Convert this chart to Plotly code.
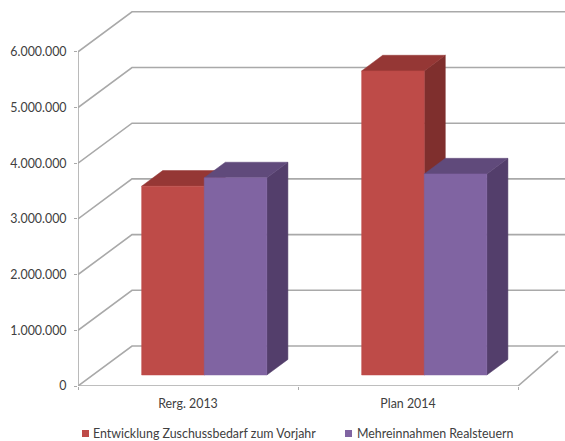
import plotly.graph_objects as go

# Chart data
categories = ["Rerg. 2013", "Plan 2014"]
series_names = ["Entwicklung Zuschussbedarf zum Vorjahr", "Mehreinnahmen Realsteuern"]
zuschussbedarf = [3390000, 5460000]
realsteuern = [3540000, 3610000]
y_ticks = [0, 1000000, 2000000, 3000000, 4000000, 5000000, 6000000]
y_tick_labels = ["0", "1.000.000", "2.000.000", "3.000.000", "4.000.000", "5.000.000", "6.000.000"]

# Canvas and axis scale
WIDTH, HEIGHT = 565, 441
AXIS_LEFT, AXIS_BOTTOM, AXIS_TOP = 78, 386, 8
PX_PER_CATEGORY = 220
PX_PER_UNIT = 55.7 / 1e6

# Oblique projection of the chart's depth direction
DEPTH_X = 54 / PX_PER_CATEGORY
DEPTH_Y = 40 / PX_PER_UNIT
BAR_FRONT = 0.275
BAR_BACK = 0.665
BAR_WIDTH = 62.6 / PX_PER_CATEGORY
BAR_SHIFT = 1.4 / PX_PER_CATEGORY

GRID = "#a9a9a9"
TEXT = "#404040"
FACE_COLORS = [
    {"front": "#be4b48", "top": "#953735", "side": "#7f2f2d"},
    {"front": "#8064a2", "top": "#604a7b", "side": "#533e6b"},
]


def project(x, y, depth):
    return x + depth * DEPTH_X, y + depth * DEPTH_Y


def face(points, color, name):
    xs, ys = zip(*[project(*p) for p in points])
    return go.Scatter(
        x=list(xs) + [xs[0]], y=list(ys) + [ys[0]], mode="lines", fill="toself",
        fillcolor=color, line=dict(color=color, width=0.5), name=name,
        showlegend=False, hoverinfo="name",
    )


def wall_line(points):
    xs, ys = zip(*[project(*p) for p in points])
    return go.Scatter(
        x=xs, y=ys, mode="lines", line=dict(color=GRID, width=1.6),
        showlegend=False, hoverinfo="skip", cliponaxis=False,
    )


x_left, x_floor_right = -0.5, 1.5
x_edge = x_left + (WIDTH - AXIS_LEFT) / PX_PER_CATEGORY
fig = go.Figure()

# Back wall gridlines, running from the value axis into the depth and across
for v in y_ticks:
    fig.add_trace(wall_line([(x_left, v, 0), (x_left, v, 1), (x_edge - DEPTH_X, v, 1)]))

# Value axis, front floor edge and right floor edge
fig.add_trace(wall_line([(x_left, y_ticks[0], 0), (x_left, y_ticks[-1], 0)]))
fig.add_trace(wall_line([(x_left, 0, 0), (x_floor_right, 0, 0), (x_edge - DEPTH_X, 0, (x_edge - x_floor_right) / DEPTH_X)]))

# Columns: side, top and front of each box, painted left to right
for c in range(len(categories)):
    for s, values in enumerate([zuschussbedarf, realsteuern]):
        colors = FACE_COLORS[s]
        x0 = c + BAR_SHIFT + (s - 1) * BAR_WIDTH
        x1 = x0 + BAR_WIDTH
        top = values[c]
        name = series_names[s]
        fig.add_trace(face([(x1, 0, BAR_FRONT), (x1, 0, BAR_BACK), (x1, top, BAR_BACK), (x1, top, BAR_FRONT)], colors["side"], name))
        fig.add_trace(face([(x0, top, BAR_FRONT), (x0, top, BAR_BACK), (x1, top, BAR_BACK), (x1, top, BAR_FRONT)], colors["top"], name))
        fig.add_trace(face([(x0, 0, BAR_FRONT), (x1, 0, BAR_FRONT), (x1, top, BAR_FRONT), (x0, top, BAR_FRONT)], colors["front"], name))

# Legend row along the bottom
legend_entries = [(82, 91), (345, 355)]
shapes, annotations = [], []
for (swatch_x, text_x), name, colors in zip(legend_entries, series_names, FACE_COLORS):
    shapes.append(dict(
        type="rect", xref="paper", yref="paper", line_width=0, fillcolor=colors["front"],
        x0=swatch_x / WIDTH, x1=(swatch_x + 7) / WIDTH,
        y0=1 - 437 / HEIGHT, y1=1 - 430 / HEIGHT,
    ))
    annotations.append(dict(
        text=name, xref="paper", yref="paper", x=text_x / WIDTH, y=1 - 433.5 / HEIGHT,
        xanchor="left", yanchor="middle", showarrow=False,
        font=dict(family="Lato", size=12.4, color=TEXT),
    ))

fig.update_layout(
    width=WIDTH, height=HEIGHT, autosize=False,
    margin=dict(l=0, r=0, t=0, b=0),
    paper_bgcolor="white", plot_bgcolor="white",
    showlegend=False, shapes=shapes, annotations=annotations,
    xaxis=dict(
        automargin=False,
        domain=[AXIS_LEFT / WIDTH, 1], range=[x_left, x_edge],
        tickmode="array", tickvals=[0, 1], ticktext=categories,
        ticks="", showgrid=False, zeroline=False, showline=False,
        ticklabelstandoff=9,
        tickfont=dict(family="Lato", size=12.4, color=TEXT),
        minor=dict(tickmode="array", tickvals=[-0.5, 0.5, 1.5], ticks="outside", ticklen=3, tickcolor=GRID, tickwidth=1, showgrid=False),
    ),
    yaxis=dict(
        automargin=False,
        domain=[1 - AXIS_BOTTOM / HEIGHT, 1 - AXIS_TOP / HEIGHT],
        range=[0, (AXIS_BOTTOM - AXIS_TOP) / PX_PER_UNIT],
        tickmode="array", tickvals=y_ticks, ticktext=y_tick_labels,
        ticks="outside", ticklen=3, tickcolor=GRID, tickwidth=1,
        showgrid=False, zeroline=False, showline=False,
        ticklabelstandoff=5,
        tickfont=dict(family="Lato", size=12.4, color=TEXT),
    ),
)

fig.write_html("out.html")
